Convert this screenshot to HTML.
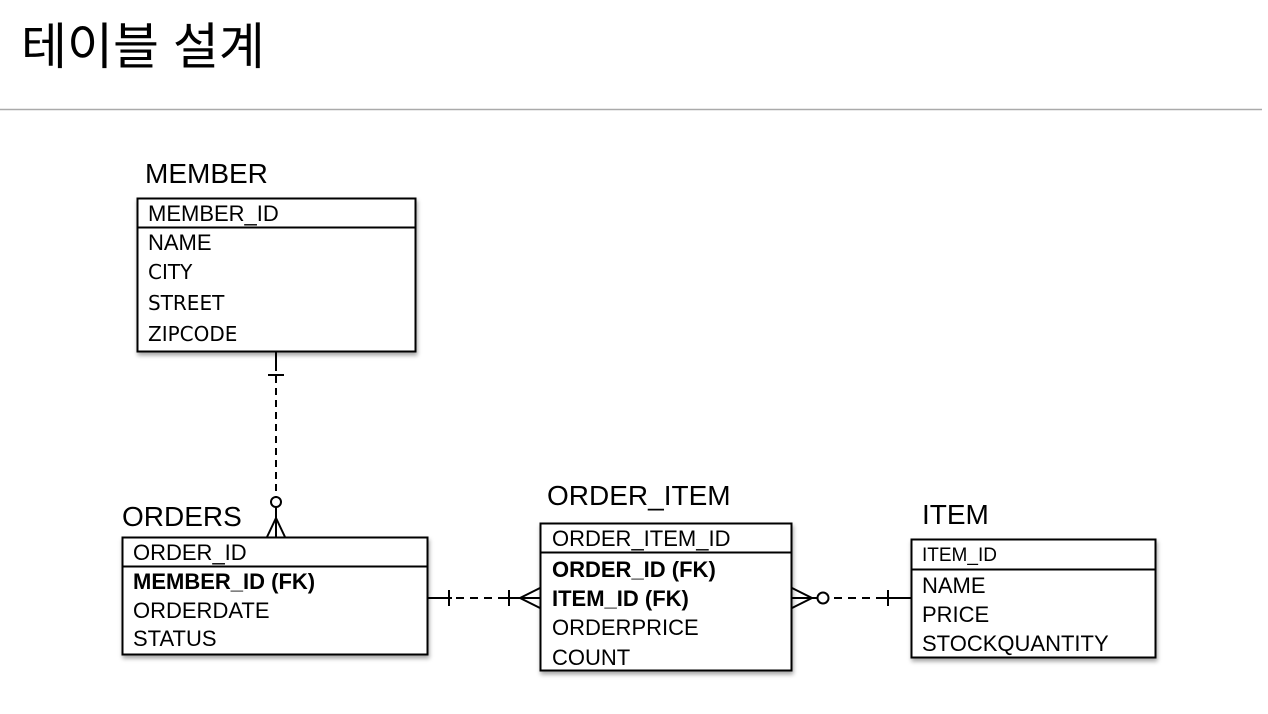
<!DOCTYPE html>
<html><head><meta charset="utf-8"><style>
html,body{margin:0;padding:0;background:#fff;width:1268px;height:714px;overflow:hidden}
svg{display:block}
text{font-family:"Liberation Sans",Arial,sans-serif;fill:#000}
.t{font-size:28px}
.r{font-size:22px}
.b{font-size:22px;font-weight:bold}
</style></head><body>
<svg width="1268" height="714" viewBox="0 0 1268 714" xmlns="http://www.w3.org/2000/svg">
<defs><filter id="s" x="-5%" y="-5%" width="115%" height="120%"><feDropShadow dx="1" dy="3" stdDeviation="2" flood-color="#000" flood-opacity="0.35"/></filter></defs>
<text x="21" y="64" style="font-family:'Liberation Sans','Noto Sans CJK KR',sans-serif;font-size:50px">테이블 설계</text>
<line x1="0" y1="109.5" x2="1262" y2="109.5" stroke="#aaa" stroke-width="1.5"/>

<!-- MEMBER -->
<text class="t" x="145" y="183">MEMBER</text>
<rect x="137.5" y="198.5" width="278" height="153" fill="#fff" stroke="#000" stroke-width="2" filter="url(#s)"/>
<line x1="137" y1="227.5" x2="416" y2="227.5" stroke="#000" stroke-width="2"/>
<text class="r" x="148" y="221">MEMBER_ID</text>
<text class="r" x="148" y="250">NAME</text>
<text class="r" x="148" y="279" style="font-family:'DejaVu Sans',sans-serif;font-size:20px">CITY</text>
<text class="r" x="148" y="310" style="font-family:'DejaVu Sans',sans-serif;font-size:20px">STREET</text>
<text class="r" x="148" y="341" style="font-family:'DejaVu Sans',sans-serif;font-size:20px">ZIPCODE</text>

<!-- MEMBER-ORDERS -->
<line x1="276" y1="352" x2="276" y2="497" stroke="#000" stroke-width="2" stroke-dasharray="7,5"/>
<line x1="276" y1="352" x2="276" y2="365" stroke="#000" stroke-width="2"/>
<line x1="268" y1="375" x2="284" y2="375" stroke="#000" stroke-width="2"/>
<circle cx="276" cy="502" r="5" fill="#fff" stroke="#000" stroke-width="2"/>
<line x1="276" y1="507" x2="276" y2="537" stroke="#000" stroke-width="2"/>
<line x1="276" y1="518" x2="267" y2="537" stroke="#000" stroke-width="2"/>
<line x1="276" y1="518" x2="285" y2="537" stroke="#000" stroke-width="2"/>

<!-- ORDERS -->
<text class="t" x="122" y="526">ORDERS</text>
<rect x="122.5" y="537.5" width="305" height="117" fill="#fff" stroke="#000" stroke-width="2" filter="url(#s)"/>
<line x1="122" y1="566.5" x2="428" y2="566.5" stroke="#000" stroke-width="2"/>
<text class="r" x="133" y="560">ORDER_ID</text>
<text class="b" x="133" y="589">MEMBER_ID (FK)</text>
<text class="r" x="133" y="618">ORDERDATE</text>
<text class="r" x="133" y="646">STATUS</text>

<!-- ORDERS-ORDER_ITEM -->
<line x1="428" y1="598" x2="540" y2="598" stroke="#000" stroke-width="2" stroke-dasharray="8,6"/>
<line x1="428" y1="598" x2="452" y2="598" stroke="#000" stroke-width="2"/>
<line x1="449" y1="590" x2="449" y2="606" stroke="#000" stroke-width="2"/>
<line x1="505" y1="598" x2="540" y2="598" stroke="#000" stroke-width="2"/>
<line x1="509" y1="590" x2="509" y2="606" stroke="#000" stroke-width="2"/>
<line x1="520" y1="598" x2="540" y2="588" stroke="#000" stroke-width="2"/>
<line x1="520" y1="598" x2="540" y2="608" stroke="#000" stroke-width="2"/>

<!-- ORDER_ITEM -->
<text class="t" x="547" y="505">ORDER_ITEM</text>
<rect x="540.5" y="523.5" width="251" height="147" fill="#fff" stroke="#000" stroke-width="2" filter="url(#s)"/>
<line x1="540" y1="552.5" x2="792" y2="552.5" stroke="#000" stroke-width="2"/>
<text class="r" x="552" y="546">ORDER_ITEM_ID</text>
<text class="b" x="552" y="577">ORDER_ID (FK)</text>
<text class="b" x="552" y="606">ITEM_ID (FK)</text>
<text class="r" x="552" y="635">ORDERPRICE</text>
<text class="r" x="552" y="665">COUNT</text>

<!-- ORDER_ITEM-ITEM -->
<line x1="792" y1="598" x2="911" y2="598" stroke="#000" stroke-width="2" stroke-dasharray="8,6"/>
<line x1="792" y1="598" x2="818" y2="598" stroke="#000" stroke-width="2"/>
<line x1="792" y1="588" x2="812" y2="598" stroke="#000" stroke-width="2"/>
<line x1="792" y1="608" x2="812" y2="598" stroke="#000" stroke-width="2"/>
<circle cx="823" cy="598" r="5.5" fill="#fff" stroke="#000" stroke-width="2"/>
<line x1="880" y1="598" x2="911" y2="598" stroke="#000" stroke-width="2"/>
<line x1="888" y1="590" x2="888" y2="606" stroke="#000" stroke-width="2"/>

<!-- ITEM -->
<text class="t" x="922" y="524">ITEM</text>
<rect x="911.5" y="539.5" width="244" height="118" fill="#fff" stroke="#000" stroke-width="2" filter="url(#s)"/>
<line x1="911" y1="569.5" x2="1156" y2="569.5" stroke="#000" stroke-width="2"/>
<text class="r" x="922" y="561" style="font-size:19px">ITEM_ID</text>
<text class="r" x="922" y="593">NAME</text>
<text class="r" x="922" y="622">PRICE</text>
<text class="r" x="922" y="651">STOCKQUANTITY</text>
</svg>
</body></html>
